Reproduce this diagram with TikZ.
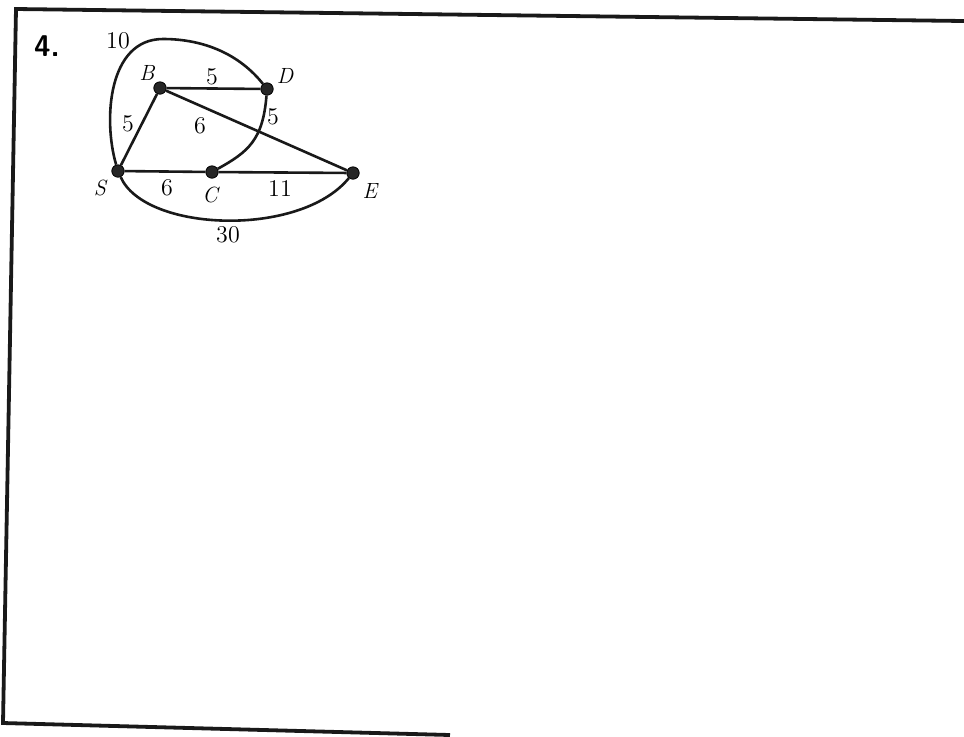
\documentclass[tikz,border=0pt]{standalone}
\begin{document}
\begin{tikzpicture}[x=0.5pt,y=-0.5pt,
  vtx/.style={circle, fill=black!85, draw=black, line width=0.4pt, inner sep=0pt, minimum size=6.2pt},
  edge/.style={line width=1.3pt, black!90},
  framestyle/.style={line width=1.9pt, black!90, line join=miter},
  lbl/.style={font=\fontsize{12}{14}\selectfont, inner sep=0pt},
  vlbl/.style={font=\fontsize{11}{13}\selectfont\itshape, inner sep=0pt}]
\useasboundingbox (0,0) rectangle (964,736);
% frame
\coordinate (f1) at (964,21);
\coordinate (f2) at (16,9);
\coordinate (f3) at (3,723);
\coordinate (f4) at (450,735);
\draw[framestyle] (f1) -- (f2) -- (f3) -- (f4);
% vertices
\node[vtx] (B) at (160,88) {};
\node[vtx] (D) at (267,89) {};
\node[vtx] (S) at (118,171) {};
\node[vtx] (C) at (212,172) {};
\node[vtx] (E) at (353,173) {};
\coordinate (T) at (163,39);
% edges
\draw[edge] (S) -- (B);
\draw[edge] (B) -- (D);
\draw[edge] (B) -- (E);
\draw[edge] (S) -- (C);
\draw[edge] (C) -- (E);
\draw[edge] (S) .. controls (103,120) and (108,39) .. (T) .. controls (205,39) and (240,55) .. (D);
\draw[edge] (D) .. controls (263,140) and (248,152) .. (C);
\draw[edge] (S) .. controls (145,232) and (300,238) .. (E);
% labels
\node[font=\fontsize{15}{17}\selectfont\sffamily\bfseries, inner sep=0pt] (num) at (47,46) {4.};
\node[lbl] (l10) at (118,41) {10};
\node[vlbl] (lB) at (147,73) {B};
\node[lbl] (lBD) at (212,77) {5};
\node[vlbl] (lD) at (285,76) {D};
\node[lbl] (lSB) at (128,124) {5};
\node[lbl] (lBE) at (200,126) {6};
\node[lbl] (lDC) at (273,117) {5};
\node[vlbl] (lS) at (100,188) {S};
\node[lbl] (lSC) at (167,188) {6};
\node[vlbl] (lC) at (210,195) {C};
\node[lbl] (lCE) at (280,189) {11};
\node[vlbl] (lE) at (370,191) {E};
\node[lbl] (l30) at (228,235) {30};
\end{tikzpicture}
\end{document}
